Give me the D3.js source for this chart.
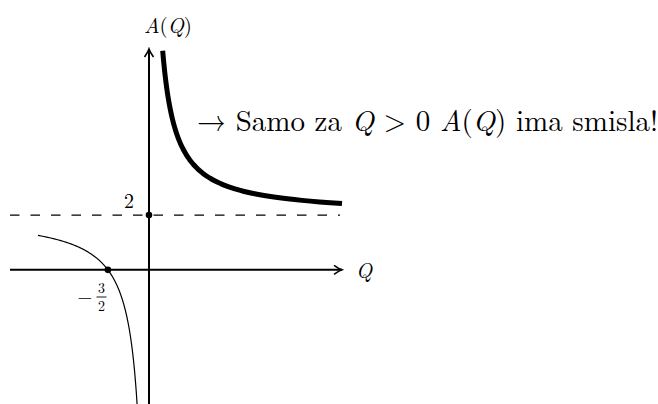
<!DOCTYPE html>
<html>
<head>
<meta charset="utf-8">
<script src="https://cdn.jsdelivr.net/npm/d3@7"></script>
<style>
  body { margin: 0; background: #fff; }
  svg { display: block; }
  text { font-family: "Latin Modern Roman", "CMU Serif", "Liberation Serif", "DejaVu Serif", serif; fill: #000; }
  .it { font-style: italic; }
</style>
</head>
<body>
<svg width="658" height="404"></svg>
<script>
const WIDTH = 658;
const HEIGHT = 404;

// A(Q) = asymptote + coef / Q
const asymptote = [2];
const coef = [3];
const qDomain = [-5.07, 7.04];
const aDomain = [-4.9, 8.03];
const posBranch = [0.5, 7.04];     // thick part, Q > 0
const negBranch = [-4.05, -0.42];  // thin part, Q < 0
const markedPoints = [[0, 2], [-1.5, 0]];

const A = (q) => asymptote[0] + coef[0] / q;

const x = d3.scaleLinear().domain(qDomain).range([10, 342]);
const y = d3.scaleLinear().domain(aDomain).range([404, 50]);

const svg = d3.select("svg");

const defs = svg.append("defs");
defs.append("marker")
  .attr("id", "arr")
  .attr("viewBox", "-10 -6 12 12")
  .attr("refX", 0).attr("refY", 0)
  .attr("markerWidth", 12).attr("markerHeight", 12)
  .attr("markerUnits", "userSpaceOnUse")
  .attr("orient", "auto")
  .append("path")
  .attr("d", "M-8,-4.5 Q-3,-1 0,0 Q-3,1 -8,4.5")
  .attr("fill", "none")
  .attr("stroke", "#000")
  .attr("stroke-width", 1.6);

// asymptote
svg.append("line")
  .attr("x1", x(qDomain[0])).attr("x2", x(qDomain[1]) - 2)
  .attr("y1", y(asymptote[0])).attr("y2", y(asymptote[0]))
  .attr("stroke", "#000").attr("stroke-width", 1.2)
  .attr("stroke-dasharray", "9.5,11");

// axes
svg.append("line")
  .attr("x1", x(qDomain[0])).attr("x2", x(qDomain[1]))
  .attr("y1", y(0)).attr("y2", y(0))
  .attr("stroke", "#000").attr("stroke-width", 2)
  .attr("marker-end", "url(#arr)");
svg.append("line")
  .attr("x1", x(0)).attr("x2", x(0))
  .attr("y1", y(aDomain[0])).attr("y2", y(aDomain[1]) - 1)
  .attr("stroke", "#000").attr("stroke-width", 2)
  .attr("marker-end", "url(#arr)");

// curves
const line = d3.line().x((d) => x(d)).y((d) => y(A(d))).curve(d3.curveLinear);
function samples(r, n) {
  // sample in 1/Q space so the steep part gets enough points
  const a = 1 / r[0], b = 1 / r[1];
  return d3.range(n + 1).map((i) => 1 / (a + (b - a) * i / n));
}
svg.append("clipPath").attr("id", "clip")
  .append("rect").attr("x", 0).attr("y", 48).attr("width", WIDTH).attr("height", HEIGHT);

svg.append("path")
  .attr("d", line(samples(negBranch, 200)))
  .attr("fill", "none").attr("stroke", "#000").attr("stroke-width", 1.2)
  .attr("clip-path", "url(#clip)");
svg.append("path")
  .attr("d", line(samples(posBranch, 200)))
  .attr("fill", "none").attr("stroke", "#000").attr("stroke-width", 5)
  .attr("clip-path", "url(#clip)");

svg.selectAll(".pt").data(markedPoints).enter()
  .append("circle")
  .attr("cx", (d) => x(d[0])).attr("cy", (d) => y(d[1]))
  .attr("r", 3.3).attr("fill", "#000");

// labels
const lab = svg.append("text").attr("x", 168).attr("y", 33)
  .attr("text-anchor", "middle").style("font-size", "21px");
lab.append("tspan").attr("class", "it").text("A");
lab.append("tspan").text("(");
lab.append("tspan").attr("class", "it").text("Q");
lab.append("tspan").text(")");

svg.append("text").attr("class", "it").attr("x", 356).attr("y", 278)
  .style("font-size", "21px").text("Q");

svg.append("text").attr("x", 129).attr("y", 208)
  .attr("text-anchor", "middle").style("font-size", "20px").text("2");

// -3/2 as one text: minus, numerator, denominator
const frac = svg.append("text").attr("text-anchor", "middle");
frac.append("tspan").attr("x", 85).attr("y", 303).style("font-size", "19px").text("\u2212");
frac.append("tspan").attr("x", 101.5).attr("y", 293).style("font-size", "14px").text("3");
frac.append("tspan").attr("x", 101.5).attr("y", 311).style("font-size", "14px").text("2");
svg.append("line").attr("x1", 96.5).attr("x2", 106.5).attr("y1", 297).attr("y2", 297)
  .attr("stroke", "#000").attr("stroke-width", 0.9);

const note = svg.append("text").attr("x", 197).attr("y", 131).style("font-size", "29px");
note.append("tspan").text("\u2192 Samo za ");
note.append("tspan").attr("class", "it").text("Q");
note.append("tspan").text(" > 0 ");
note.append("tspan").attr("class", "it").text("A");
note.append("tspan").text("(");
note.append("tspan").attr("class", "it").text("Q");
note.append("tspan").text(") ima smisla!");
</script>
</body>
</html>
